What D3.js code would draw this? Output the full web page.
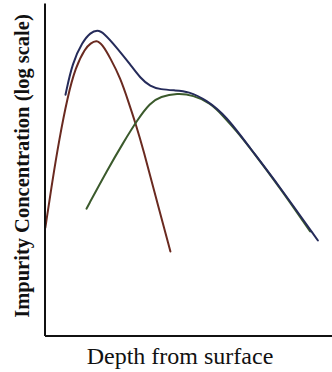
<!DOCTYPE html>
<html>
<head>
<meta charset="utf-8">
<script src="https://cdn.jsdelivr.net/npm/d3@7"></script>
<style>
  body { margin: 0; background: #fff; }
  svg { display: block; }
  .label { font-family: "Liberation Serif", "Times New Roman", serif; fill: #111; }
</style>
</head>
<body>
<svg id="chart" width="332" height="372"></svg>
<script>
// depth (arbitrary units) and log10 of impurity concentration
var redDepth  = [0.003, 0.028, 0.051, 0.080, 0.108, 0.142, 0.160, 0.181, 0.201, 0.229, 0.264, 0.292, 0.316, 0.344, 0.385, 0.438];
var redConc   = [16.27, 17.28, 18.12, 19.02, 19.65, 20.05, 20.15, 20.22, 20.13, 19.84, 19.42, 18.92, 18.48, 17.91, 16.96, 15.77];

var greenDepth = [0.146, 0.219, 0.274, 0.323, 0.368, 0.403, 0.462, 0.517, 0.576, 0.622, 0.670, 0.715, 0.819, 0.924];
var greenConc  = [16.67, 17.49, 18.06, 18.54, 18.90, 19.03, 19.10, 19.06, 18.90, 18.62, 18.29, 17.95, 17.11, 16.19];

var blueDepth = [0.073, 0.097, 0.132, 0.160, 0.184, 0.205, 0.253, 0.299, 0.333, 0.368, 0.403, 0.455, 0.500, 0.563, 0.632, 0.712, 0.816, 0.951];
var blueConc  = [19.07, 19.74, 20.18, 20.38, 20.43, 20.38, 20.05, 19.70, 19.42, 19.24, 19.18, 19.16, 19.14, 18.96, 18.62, 17.97, 17.15, 16.00];

var xLabel = 'Depth from surface',
    yLabel = 'Impurity Concentration (log scale)';

var svg = d3.select('#chart');

var x = d3.scaleLinear().domain([0, 1]).range([44.5, 332]),
    y = d3.scaleLinear().domain([14, 21]).range([335.5, 3]);

function zipUp( xs, ys ) {
  return xs.map( function(d, i) { return [d, ys[i]]; } );
}

var line = d3.line()
  .x(function(d) { return x(d[0]); })
  .y(function(d) { return y(d[1]); })
  .curve(d3.curveBasis);

var series = [
  { pts: zipUp(redDepth, redConc), color: '#6a2a20' },
  { pts: zipUp(greenDepth, greenConc), color: '#3b5a2c' },
  { pts: zipUp(blueDepth, blueConc), color: '#252b5a' }
];

svg.selectAll('path.curve')
  .data(series)
  .enter()
  .append('path')
    .attr('class', 'curve')
    .attr('fill', 'none')
    .attr('stroke', function(d) { return d.color; })
    .attr('stroke-width', 2)
    .attr('stroke-linecap', 'round')
    .attr('d', function(d) { return line(d.pts); });

// bare axes, no ticks
svg.append('g')
  .attr('transform', 'translate(0,' + y(14) + ')')
  .call(d3.axisBottom(x).ticks(0).tickSizeOuter(0));
svg.append('g')
  .attr('transform', 'translate(' + x(0) + ',0)')
  .call(d3.axisLeft(y).ticks(0).tickSizeOuter(0));
svg.selectAll('.domain').attr('stroke', '#111').attr('stroke-width', 2);

svg.append('text')
  .attr('class', 'label')
  .attr('x', 180)
  .attr('y', 364)
  .attr('text-anchor', 'middle')
  .style('font-size', '24px')
  .text(xLabel);

svg.append('text')
  .attr('class', 'label')
  .attr('transform', 'translate(29,166) rotate(-90)')
  .attr('text-anchor', 'middle')
  .style('font-size', '20.5px')
  .style('font-weight', 'bold')
  .text(yLabel);
</script>
</body>
</html>
